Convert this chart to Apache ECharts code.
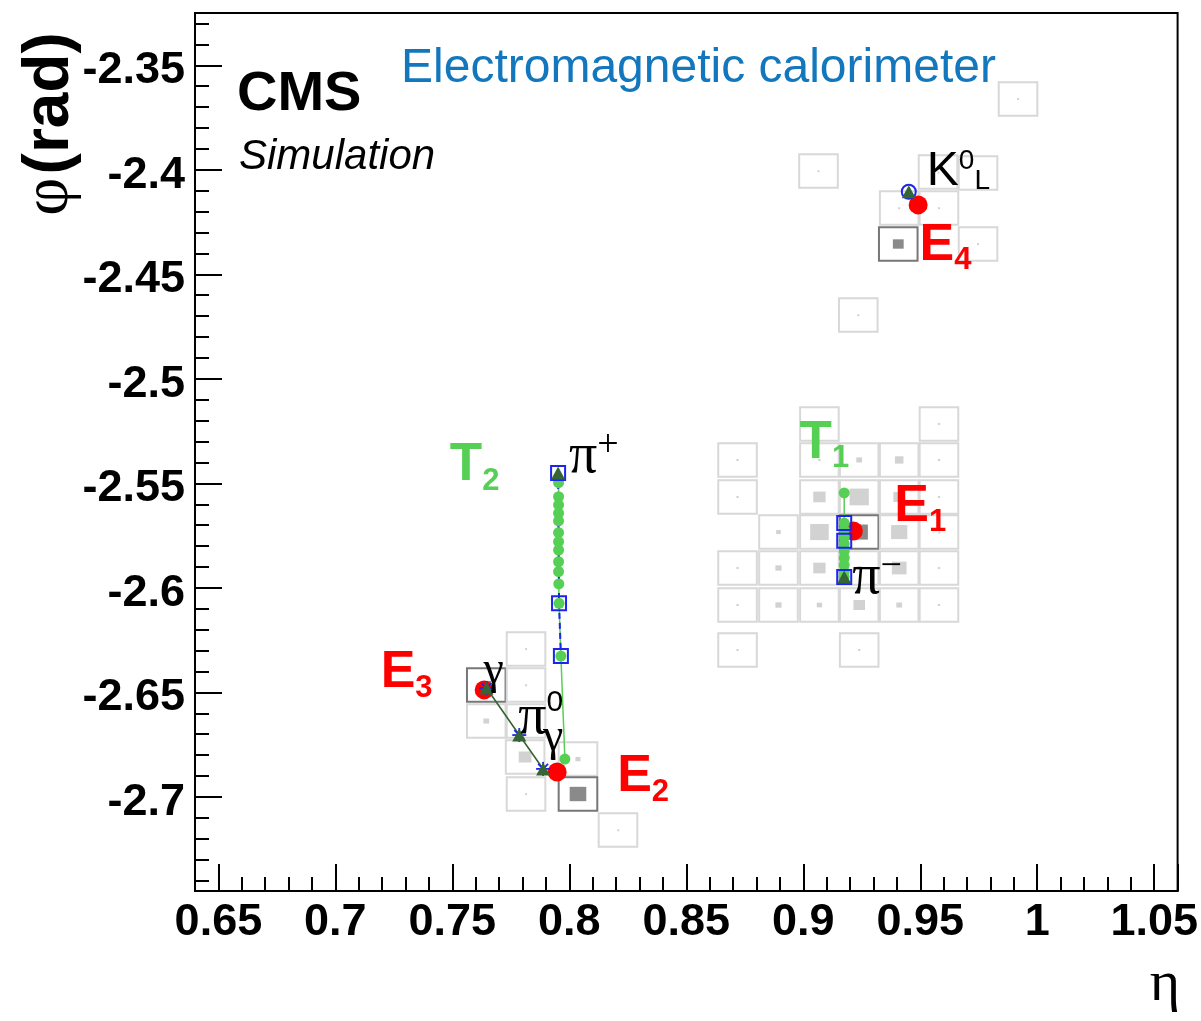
<!DOCTYPE html>
<html>
<head>
<meta charset="utf-8">
<script src="https://cdn.jsdelivr.net/npm/echarts@6/dist/echarts.min.js"></script>
<style>html,body{margin:0;padding:0;background:#fff}#chart{width:1201px;height:1021px}</style>
</head>
<body>
<div id="chart"></div>
<script>
// ================= DATA =================
// axis ranges (eta, phi in rad)
const etaRange = [0.64, 1.06];
const phiRange = [-2.745, -2.325];
const tickStep = 0.05;

// ECAL crystals: [eta, phi, relative energy-box size, seed flag]
const cellsCluster1 = [
  [0.9069,-2.5216,0.06,0],[0.9580,-2.5216,0.06,0],
  [0.8719,-2.5388,0.06,0],[0.9069,-2.5388,0.06,0],[0.9239,-2.5388,0.15,0],[0.9410,-2.5388,0.22,0],[0.9580,-2.5388,0.06,0],
  [0.8719,-2.5565,0.06,0],[0.9069,-2.5565,0.32,0],[0.9239,-2.5565,0.50,0],[0.9410,-2.5565,0.30,0],[0.9580,-2.5565,0.06,0],
  [0.8894,-2.5733,0.12,0],[0.9069,-2.5733,0.48,0],[0.9239,-2.5733,0.45,1],[0.9410,-2.5733,0.42,0],[0.9580,-2.5733,0.03,0],
  [0.8719,-2.5905,0.06,0],[0.8894,-2.5905,0.16,0],[0.9069,-2.5905,0.32,0],[0.9239,-2.5905,0.12,0],[0.9410,-2.5905,0.38,0],[0.9580,-2.5905,0.06,0],
  [0.8719,-2.6082,0.06,0],[0.8894,-2.6082,0.16,0],[0.9069,-2.6082,0.14,0],[0.9239,-2.6082,0.30,0],[0.9410,-2.6082,0.15,0],[0.9580,-2.6082,0.06,0],
  [0.8719,-2.6297,0.06,0],[0.9239,-2.6297,0.06,0]
];
const cellsCluster2 = [
  [0.7815,-2.6292,0.05,0],
  [0.7645,-2.6465,0.25,1],[0.7815,-2.6465,0.05,0],
  [0.7645,-2.6637,0.15,0],[0.7815,-2.6637,0.05,0],
  [0.7811,-2.6809,0.33,0],[0.8037,-2.6819,0.13,0],
  [0.7815,-2.6986,0.05,0],[0.8037,-2.6986,0.43,1],
  [0.8208,-2.7158,0.04,0]
];
const cellsCluster4 = [
  [0.9918,-2.3661,0.05,0],
  [0.9065,-2.4006,0.05,0],[0.9576,-2.4011,0.03,0],[0.9747,-2.4015,0.03,0],
  [0.9410,-2.4183,0.05,0],[0.9580,-2.4183,0.05,0],
  [0.9406,-2.4355,0.28,1],[0.9747,-2.4355,0.05,0],
  [0.9235,-2.4695,0.05,0]
];

// reconstructed ECAL cluster positions
const clusterNames = ['E1','E2','E3','E4'];
const clusterEta = [0.9214, 0.7948, 0.7636, 0.9491];
const clusterPhi = [-2.5728, -2.6881, -2.6488, -2.4168];

// track T1 (pi-) : extrapolated points, states, origin
const t1Points = [[0.9175,-2.5546],[0.9175,-2.5690],[0.9175,-2.5723],[0.9175,-2.5757],[0.9175,-2.5790],
                  [0.9175,-2.5824],[0.9175,-2.5857],[0.9175,-2.5891],[0.9175,-2.5924],[0.9175,-2.5948]];
const t1States = [[0.9175,-2.5690],[0.9175,-2.5774],[0.9175,-2.5948]];
const t1Origin = [0.9175,-2.5948];

// track T2 (pi+)
const t2Points = [[0.7952,-2.5450],[0.7954,-2.5497],[0.7954,-2.5564],[0.7954,-2.5603],[0.7954,-2.5643],
                  [0.7954,-2.5680],[0.7954,-2.5736],[0.7954,-2.5779],[0.7954,-2.5819],[0.7954,-2.5875],
                  [0.7954,-2.5922],[0.7955,-2.5981],[0.7956,-2.6074],[0.7964,-2.6326],[0.7981,-2.6819]];
const t2States = [[0.7952,-2.5450],[0.7956,-2.6074],[0.7964,-2.6326]];
const t2Origin = [0.7952,-2.5450];

// pi0 -> gamma gamma : gamma1, pi0, gamma2
const pi0Decay = [[0.7646,-2.6479],[0.7786,-2.6704],[0.7888,-2.6866]];

// K0L impact
const k0l = [0.9451,-2.4105];

// ================= STYLE =================
const SANS = '"Liberation Sans", Arial, Helvetica, sans-serif';
const SERIF = '"Liberation Serif", "Times New Roman", serif';
const RED = '#ff0000', GREEN = '#55d055', DKGREEN = '#356535', BLUE = '#1a26f0', AZURE = '#1277bd';
const CELL_W = 0.0165, CELL_H = 0.0160;

const rich = {
  E:  {fontFamily:SANS, fontWeight:'bold', fontSize:52, lineHeight:62, color:RED},
  Es: {fontFamily:SANS, fontWeight:'bold', fontSize:31, lineHeight:30, color:RED, verticalAlign:'bottom'},
  T:  {fontFamily:SANS, fontWeight:'bold', fontSize:53, lineHeight:62, color:GREEN},
  Ts: {fontFamily:SANS, fontWeight:'bold', fontSize:31, lineHeight:30, color:GREEN, verticalAlign:'bottom'},
  pi: {fontFamily:SERIF, fontSize:56, lineHeight:60, color:'#000'},
  ps: {fontFamily:SERIF, fontSize:38, lineHeight:36, color:'#000', verticalAlign:'top'},
  pm: {fontFamily:SERIF, fontSize:38, lineHeight:14, color:'#000', verticalAlign:'top'},
  p0: {fontFamily:SANS, fontSize:30, lineHeight:34, color:'#000', verticalAlign:'top'},
  g:  {fontFamily:SERIF, fontSize:46, lineHeight:50, color:'#000'},
  K:  {fontFamily:SANS, fontSize:48, lineHeight:48, color:'#000'},
  Ku: {fontFamily:SANS, fontSize:28, lineHeight:34, color:'#000', verticalAlign:'top'},
  Kd: {fontFamily:SANS, fontSize:28, lineHeight:22, color:'#000', verticalAlign:'bottom'}
};

// annotation text attached to marks, with pixel offsets (style)
const annotations = [
  {at:[clusterEta[0],clusterPhi[0]], text:'{E|E}{Es|1}', off:[41,-24.5]},
  {at:[clusterEta[1],clusterPhi[1]], text:'{E|E}{Es|2}', off:[60,4.7]},
  {at:[clusterEta[2],clusterPhi[2]], text:'{E|E}{Es|3}', off:[-103.5,-17]},
  {at:[clusterEta[3],clusterPhi[3]], text:'{E|E}{Es|4}', off:[1.4,40.5]},
  {at:t1Points[0], text:'{T|T}{Ts|1}', off:[-44.7,-49.8]},
  {at:t2Origin, text:'{T|T}{Ts|2}', off:[-108.3,-7.2]},
  {at:t2Origin, text:'{pi|π}{ps|+}', off:[11,-16]},
  {at:t1Origin, text:'{pi|π}{pm|−}', off:[8,1]},
  {at:pi0Decay[1], text:'{pi|π}{p0|0}', off:[-1,-17]},
  {at:pi0Decay[0], text:'{g|γ}', off:[-3,-17]},
  {at:pi0Decay[2], text:'{g|γ}', off:[0,-31]},
  {at:k0l, text:'{K|K}{Ku|0}{Kd|L}', off:[18,-20]}
];

const allCells = cellsCluster1.concat(cellsCluster2, cellsCluster4);

function isMajor(v){ const r = v / tickStep; return Math.abs(r - Math.round(r)) < 1e-6; }
function fmt(v){ return isMajor(v) ? String(+v.toFixed(2)) : ''; }

const chart = echarts.init(document.getElementById('chart'), null, {renderer:'canvas'});

const axisCommon = {
  type:'value', splitNumber:8, minInterval:tickStep, maxInterval:tickStep,
  splitLine:{show:false},
  axisLine:{show:true, onZero:false, lineStyle:{color:'#000', width:2}},
  axisTick:{show:true, inside:true, length:27, lineStyle:{color:'#000', width:2}},
  minorTick:{show:true, splitNumber:5, length:14, lineStyle:{color:'#000', width:2}},
  axisLabel:{color:'#000', fontFamily:SANS, fontWeight:'bold', fontSize:45, formatter:fmt}
};

const option = {
  animation:false,
  backgroundColor:'#fff',
  grid:{left:195, top:13, width:985, height:878, show:true, borderColor:'#000', borderWidth:2, backgroundColor:'transparent'},
  xAxis: Object.assign({}, axisCommon, {min:etaRange[0], max:etaRange[1],
    axisLabel:Object.assign({}, axisCommon.axisLabel, {margin:9})}),
  yAxis: Object.assign({}, axisCommon, {min:phiRange[0], max:phiRange[1],
    axisLabel:Object.assign({}, axisCommon.axisLabel, {margin:10, verticalAlign:'top', lineHeight:11})}),
  graphic:[
    {type:'text', x:237, y:95, style:{text:'CMS', font:'bold 56px '+SANS, fill:'#000', textVerticalAlign:'middle'}},
    {type:'text', x:239, y:157, style:{text:'Simulation', font:'italic 42px '+SANS, fill:'#000', textVerticalAlign:'middle'}},
    {type:'text', x:401, y:69, style:{text:'Electromagnetic calorimeter', font:'48px '+SANS, fill:AZURE, textVerticalAlign:'middle'}},
    {type:'text', x:1180, y:985, style:{text:'η', font:'58px '+SERIF, fill:'#000', textAlign:'right', textVerticalAlign:'middle'}},
    {type:'text', x:50, y:124, rotation:Math.PI/2,
      style:{text:'{p|φ} {r|(rad)}', textAlign:'center', textVerticalAlign:'middle',
        rich:{p:{fontFamily:SERIF, fontSize:66, fill:'#000'}, r:{fontFamily:SANS, fontWeight:'bold', fontSize:64, fill:'#000'}}}}
  ],
  series:[
    {
      type:'custom', name:'cells', z:1, data:allCells, encode:{x:0, y:1},
      renderItem:function(params, api){
        const c = api.coord([api.value(0), api.value(1)]);
        const s = api.size([CELL_W, CELL_H]);
        const f = api.value(2), seed = api.value(3);
        return {type:'group', children:[
          {type:'rect', shape:{x:c[0]-s[0]/2, y:c[1]-s[1]/2, width:s[0], height:s[1]},
           style:{fill:'none', stroke: seed ? '#777777' : '#d8d8d8', lineWidth:2}},
          {type:'rect', shape:{x:c[0]-s[0]*f/2, y:c[1]-s[1]*f/2, width:Math.max(2,s[0]*f), height:Math.max(2,s[1]*f)},
           style:{fill: seed ? '#8a8a8a' : '#d2d2d2'}}
        ]};
      }
    },
    {type:'scatter', name:'clusters', z:3, symbol:'circle', symbolSize:19, itemStyle:{color:RED, opacity:1},
     data: clusterEta.map((e,i)=>[e, clusterPhi[i]])},
    {type:'line', name:'T2', z:4, data:t2Points, symbol:'none', lineStyle:{color:GREEN, width:1.5}},
    {type:'line', name:'T1', z:4, data:t1Points, symbol:'none', lineStyle:{color:GREEN, width:1.5}},
    {type:'line', name:'pi0', z:4, data:pi0Decay, symbol:'none', lineStyle:{color:DKGREEN, width:1.6}},
    {type:'line', name:'T2 states', z:5, data:t2States, symbol:'none', lineStyle:{color:BLUE, width:2, type:[6,4]}},
    {type:'line', name:'T1 states', z:5, data:t1States, symbol:'none', lineStyle:{color:BLUE, width:2, type:[6,4]}},
    {type:'scatter', name:'track points', z:6, symbol:'circle', symbolSize:11, itemStyle:{color:GREEN, opacity:1},
     data: t2Points.slice(1).concat(t1Points)},
    {type:'scatter', name:'states', z:7, symbol:'rect', symbolSize:14,
     itemStyle:{color:'rgba(0,0,0,0)', borderColor:BLUE, borderWidth:2, opacity:1},
     data: t2States.concat(t1States)},
    {type:'custom', name:'photons', z:8, data:pi0Decay, encode:{x:0, y:1},
     renderItem:function(params, api){
       const c = api.coord([api.value(0), api.value(1)]);
       const r = 7, ch = [];
       for (let k = 0; k < 4; k++) {
         const a = k * Math.PI / 4, dx = r*Math.cos(a), dy = r*Math.sin(a);
         ch.push({type:'line', shape:{x1:c[0]-dx, y1:c[1]-dy, x2:c[0]+dx, y2:c[1]+dy}, style:{stroke:BLUE, lineWidth:1.8}});
       }
       return {type:'group', children:ch};
     }},
    {type:'scatter', name:'k0l', z:8, symbol:'circle', symbolSize:14,
     itemStyle:{color:'rgba(0,0,0,0)', borderColor:BLUE, borderWidth:2, opacity:1}, data:[k0l]},
    {type:'scatter', name:'origins', z:9, symbol:'triangle', symbolSize:[14,13], itemStyle:{color:DKGREEN, opacity:1},
     data:[t1Origin, t2Origin, k0l].concat(pi0Decay)},
    {type:'scatter', name:'labels', z:10, symbolSize:1, itemStyle:{color:'rgba(0,0,0,0)', opacity:1}, silent:true,
     data: annotations.map(a => ({value:a.at, label:{show:true, position:'inside', offset:a.off, align:'left',
        verticalAlign:'middle', formatter:a.text, rich:rich}}))}
  ]
};
chart.setOption(option);
</script>
</body>
</html>
